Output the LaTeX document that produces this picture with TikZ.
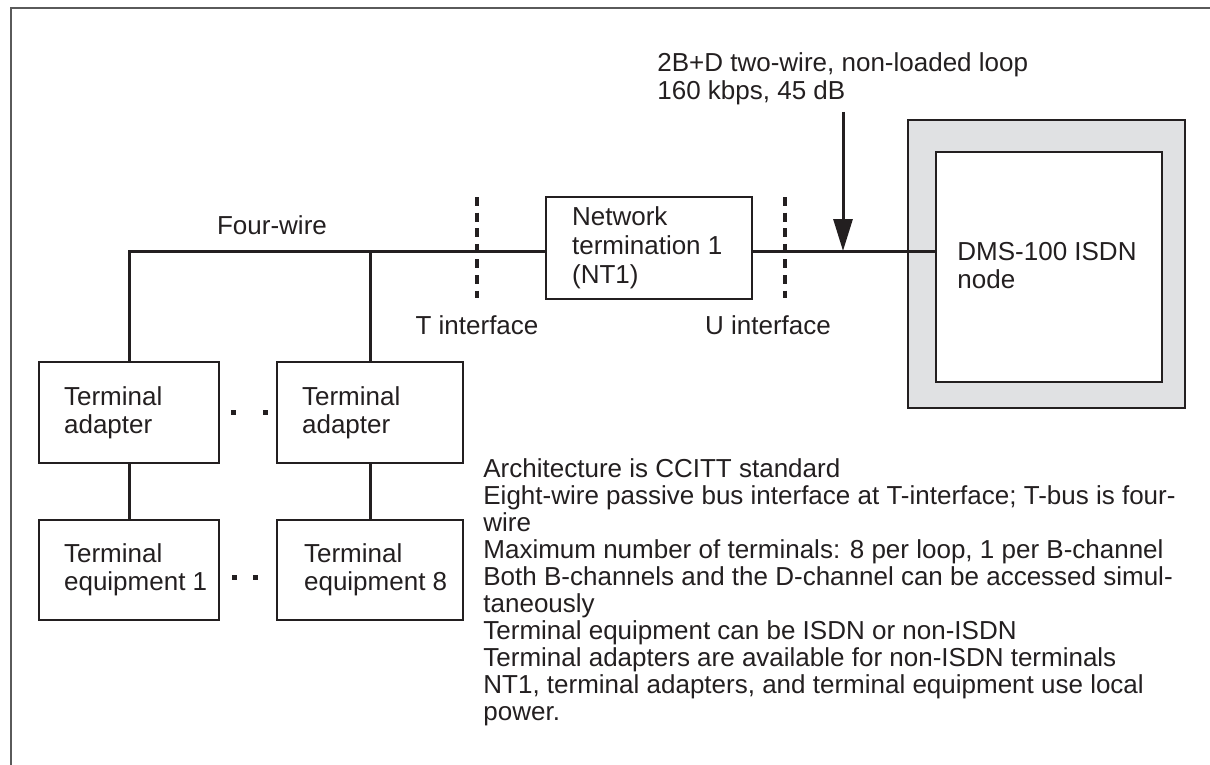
\documentclass[tikz,border=0pt]{standalone}
\usepackage{fontspec}
\setmainfont{Liberation Sans}
\usetikzlibrary{arrows.meta}
\definecolor{ink}{HTML}{231F20}
\definecolor{shade}{HTML}{E0E1E3}
\definecolor{framecol}{HTML}{5A5A5A}
\tikzset{
  boxnode/.style={draw=ink, line width=1.3pt, inner sep=0pt, fill=white},
  lbl/.style={font=\fontsize{13}{14}\selectfont, text=ink, inner sep=0pt, align=left},
  notelbl/.style={font=\fontsize{13}{13.5}\selectfont, text=ink, inner sep=0pt, align=left},
  wire/.style={draw=ink, line width=1.5pt},
  dotline/.style={draw=ink, line width=1.8pt, dash pattern=on 4.5pt off 3.3pt},
  dotmark/.style={fill=ink}
}
\begin{document}
\begin{tikzpicture}[x=0.5pt,y=-0.5pt]
\useasboundingbox (0,0) rectangle (1210,765);
% frame
\draw[framecol, line width=1pt] (10,8) -- (1210,8);
\draw[framecol, line width=1pt] (11,8) -- (11,765);

% boxes
\node[boxnode, minimum width=90pt, minimum height=50.5pt] (ta1) at (129,412.5) {};
\node[boxnode, minimum width=93pt, minimum height=50.5pt] (ta2) at (370,412.5) {};
\node[boxnode, minimum width=90pt, minimum height=50pt] (te1) at (129,570) {};
\node[boxnode, minimum width=93pt, minimum height=50pt] (te8) at (370,570) {};
\node[boxnode, minimum width=103pt, minimum height=51pt] (nt1) at (649,248) {};
\node[boxnode, fill=shade, minimum width=138.5pt, minimum height=144pt] (dms) at (1046.5,264) {};
\node[boxnode, minimum width=113pt, minimum height=115pt] (inner) at (1049,267) {};

% box texts
\node[lbl, anchor=west] (ta1t) at ([xshift=13pt]ta1.west) {Terminal\\adapter};
\node[lbl, anchor=west] (ta2t) at ([xshift=13pt]ta2.west) {Terminal\\adapter};
\node[lbl, anchor=west] (te1t) at ([xshift=13pt]te1.west) {Terminal\\equipment 1};
\node[lbl, anchor=west] (te8t) at ([xshift=14pt]te8.west) {Terminal\\equipment 8};
\node[lbl, font=\fontsize{13}{14.5}\selectfont, anchor=west] (nt1t) at ([xshift=13.5pt]nt1.west) {Network\\termination 1\\(NT1)};
\node[lbl, anchor=west] (dmst) at (957,266) {DMS-100 ISDN\\node};

% connectors
\coordinate (nl) at ([yshift=-1.5pt]nt1.west);
\coordinate (nr) at ([yshift=-1.5pt]nt1.east);
\draw[wire] (ta1.north) |- (nl);
\draw[wire] (ta2.north) -- (ta2.north |- nl);
\draw[wire] (ta1.south) -- (te1.north);
\draw[wire] (ta2.south) -- (te8.north);
\draw[wire] (nr) -- (nr -| inner.west);

% arrow
\coordinate (atop) at (843,112);
\draw[wire, -{Triangle[length=16pt,width=9.5pt]}] (atop) -- (atop |- nr);

% interface dotted lines
\coordinate (tt) at (477,197);
\coordinate (tb) at (477,298);
\coordinate (ut) at (785,197);
\coordinate (ub) at (785,298);
\draw[dotline] (tt) -- (tb);
\draw[dotline] (ut) -- (ub);

% ellipsis marks
\fill[dotmark] (230.5,409.5) rectangle (235.5,414.5);
\fill[dotmark] (262.5,409.5) rectangle (267.5,414.5);
\fill[dotmark] (231.5,574.5) rectangle (236.5,579.5);
\fill[dotmark] (252.5,574.5) rectangle (257.5,579.5);

% labels
\node[lbl] (fw) at (272,225) {Four-wire};
\node[lbl] (tif) at (477,325) {T interface};
\node[lbl] (uif) at (768,325) {U interface};
\node[lbl, anchor=west] (loop) at (657,79) {2B+D two-wire, non-loaded loop\\160 kbps, 45 dB};
\node[notelbl, anchor=west] (note) at (483,592) {Architecture is CCITT standard\\
Eight-wire passive bus interface at T-interface; T-bus is four-\\
wire\\
Maximum number of terminals: 8 per loop, 1 per B-channel\\
Both B-channels and the D-channel can be accessed simul-\\
taneously\\
Terminal equipment can be ISDN or non-ISDN\\
Terminal adapters are available for non-ISDN terminals\\
NT1, terminal adapters, and terminal equipment use local\\
power.};
\end{tikzpicture}
\end{document}
